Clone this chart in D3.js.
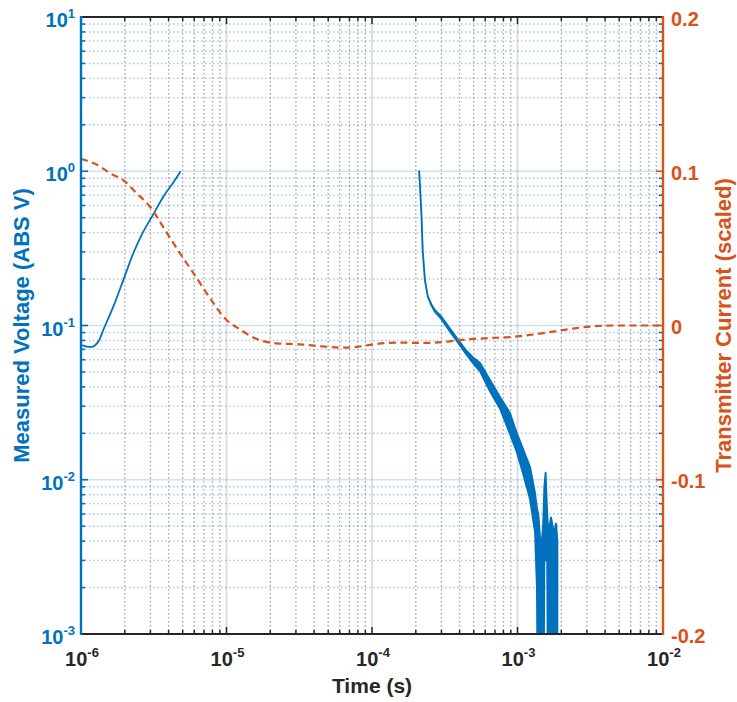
<!DOCTYPE html>
<html>
<head>
<meta charset="utf-8">
<script src="https://cdn.jsdelivr.net/npm/d3@7"></script>
<style>
  body { margin: 0; background: #fff; }
  text { font-family: "Liberation Sans", Arial, Helvetica, sans-serif; font-weight: bold; }
</style>
</head>
<body>
<svg id="chart" width="737" height="702"></svg>
<script>
// ---- axis ticks ----
const timeExponents = [-6, -5, -4, -3, -2];
const voltageExponents = [-3, -2, -1, 0, 1];
const currentTicks = [-0.2, -0.1, 0, 0.1, 0.2];
const currentTickLabels = ["-0.2", "-0.1", "0", "0.1", "0.2"];

// ---- early-time voltage (rising part) ----
const earlyTime = [1.0e-6, 1.05e-6, 1.1e-6, 1.18e-6, 1.25e-6, 1.33e-6, 1.423e-6, 1.667e-6,
                   1.953e-6, 2.288e-6, 2.545e-6, 3.176e-6, 3.678e-6, 4.426e-6, 4.84e-6];
const earlyVoltage = [0.075, 0.0738, 0.073, 0.0726, 0.0745, 0.080, 0.0935, 0.1324,
                      0.197, 0.294, 0.369, 0.536, 0.684, 0.877, 1.0];

// ---- late-time voltage decay: upper / lower envelope of the noisy trace ----
const lateTime = [2.11e-4, 2.15e-4, 2.19e-4, 2.23e-4, 2.31e-4, 2.42e-4, 2.56e-4, 2.70e-4,
                  3.0e-4, 3.5e-4, 3.92e-4, 4.4e-4, 4.95e-4, 5.53e-4, 6.47e-4, 7.58e-4,
                  8.87e-4, 9.88e-4, 1.097e-3, 1.219e-3, 1.319e-3, 1.36e-3, 1.39e-3, 1.45e-3,
                  1.50e-3, 1.53e-3, 1.56e-3, 1.60e-3, 1.63e-3, 1.70e-3, 1.78e-3, 1.84e-3, 1.88e-3];
const lateVoltageHigh = [1.0, 0.72, 0.508, 0.308, 0.197, 0.154, 0.137, 0.126,
                         0.114, 0.093, 0.0805, 0.0695, 0.062, 0.0571, 0.0443, 0.0344,
                         0.0271, 0.0201, 0.0156, 0.0121, 0.0082, 0.0065, 0.0060, 0.0035,
                         0.005, 0.009, 0.0111, 0.006, 0.0045, 0.0057, 0.0045, 0.0052, 0.004];
const lateVoltageLow = [1.0, 0.72, 0.508, 0.308, 0.197, 0.154, 0.135, 0.123,
                        0.110, 0.089, 0.077, 0.066, 0.057, 0.0505, 0.0375, 0.029,
                        0.0198, 0.0152, 0.0108, 0.0075, 0.0046, 0.002, 0.0001, 0.0001,
                        0.0001, 0.003, 0.003, 0.003, 0.0001, 0.0001, 0.0001, 0.0001, 0.0001];

// ---- transmitter current waveform (scaled) ----
const currentTime = [1e-6, 1.3e-6, 1.6e-6, 1.95e-6, 2.4e-6, 2.98e-6, 3.8e-6, 4.79e-6, 6e-6,
                     7.31e-6, 1e-5, 1.25e-5, 1.53e-5, 2.2e-5, 3.2e-5, 4.5e-5, 6.3e-5, 8e-5,
                     1.02e-4, 1.56e-4, 2.25e-4, 3.27e-4, 4.03e-4, 6e-4, 9.36e-4, 1.3e-3,
                     1.75e-3, 2.4e-3, 3.15e-3, 4.53e-3, 6.5e-3, 1e-2];
const currentValue = [0.108, 0.104, 0.0984, 0.0943, 0.0859, 0.077, 0.0616, 0.0468, 0.0332,
                      0.0209, 0.0036, -0.0028, -0.0078, -0.0116, -0.0122, -0.0135, -0.0144, -0.0138,
                      -0.0122, -0.0111, -0.0113, -0.0105, -0.0094, -0.0083, -0.0073, -0.0058,
                      -0.004, -0.002, -0.0007, 0.0, 0.0, 0.0];

// ---- styling ----
const BLUE = "#0072BD";
const ORANGE = "#D95319";
const DARK = "#262626";

const plot = { left: 81, top: 17, right: 663, bottom: 634 };

const svg = d3.select("#chart");

const x = d3.scaleLog().domain([1e-6, 1e-2]).range([plot.left, plot.right]);
const yV = d3.scaleLog().domain([1e-3, 10]).range([plot.bottom, plot.top]);
const yI = d3.scaleLinear().domain([-0.2, 0.2]).range([plot.bottom, plot.top]);

const timeMajor = timeExponents.map(e => Math.pow(10, e));
const voltMajor = voltageExponents.map(e => Math.pow(10, e));
const isMajor = v => Math.abs(Math.log10(v) - Math.round(Math.log10(v))) < 1e-9;
const timeMinor = x.ticks().filter(v => !isMajor(v));
const voltMinor = yV.ticks().filter(v => !isMajor(v));

// ---- grid ----
const grid = svg.append("g");
grid.selectAll(".vminor").data(timeMinor).join("line")
  .attr("x1", d => x(d)).attr("x2", d => x(d))
  .attr("y1", plot.top).attr("y2", plot.bottom)
  .attr("stroke", "rgba(38,38,38,0.4)").attr("stroke-width", 1.4)
  .attr("stroke-dasharray", "1.4 2.6");
grid.selectAll(".hminor").data(voltMinor).join("line")
  .attr("x1", plot.left).attr("x2", plot.right)
  .attr("y1", d => yV(d)).attr("y2", d => yV(d))
  .attr("stroke", "rgba(0,114,189,0.4)").attr("stroke-width", 1.4)
  .attr("stroke-dasharray", "1.4 2.6");
grid.selectAll(".vmajor").data(timeMajor).join("line")
  .attr("x1", d => x(d)).attr("x2", d => x(d))
  .attr("y1", plot.top).attr("y2", plot.bottom)
  .attr("stroke", "rgba(38,38,38,0.17)").attr("stroke-width", 1.7);
grid.selectAll(".hmajor").data(voltMajor).join("line")
  .attr("x1", plot.left).attr("x2", plot.right)
  .attr("y1", d => yV(d)).attr("y2", d => yV(d))
  .attr("stroke", "rgba(0,114,189,0.2)").attr("stroke-width", 1.7);

// ---- data ----
svg.append("clipPath").attr("id", "plotClip").append("rect")
  .attr("x", plot.left).attr("y", plot.top)
  .attr("width", plot.right - plot.left).attr("height", plot.bottom - plot.top);

const data = svg.append("g").attr("clip-path", "url(#plotClip)");

const earlyData = earlyTime.map((t, i) => ({ t, v: earlyVoltage[i] }));
data.append("path").datum(earlyData)
  .attr("fill", "none").attr("stroke", BLUE).attr("stroke-width", 1.8)
  .attr("d", d3.line().x(d => x(d.t)).y(d => yV(d.v)).curve(d3.curveMonotoneX));

const lateData = lateTime.map((t, i) => ({ t, hi: lateVoltageHigh[i], lo: lateVoltageLow[i] }));
data.append("path").datum(lateData)
  .attr("fill", BLUE).attr("stroke", BLUE).attr("stroke-width", 1.9)
  .attr("stroke-linejoin", "round")
  .attr("d", d3.area().x(d => x(d.t)).y0(d => yV(d.lo)).y1(d => yV(d.hi)));

const currentData = currentTime.map((t, i) => ({ t, c: currentValue[i] }));
data.append("path").datum(currentData)
  .attr("fill", "none").attr("stroke", ORANGE).attr("stroke-width", 2.2)
  .attr("stroke-dasharray", "7 4.5")
  .attr("d", d3.line().x(d => x(d.t)).y(d => yI(d.c)).curve(d3.curveMonotoneX));

// ---- axes ----
const axes = svg.append("g");

function drawTicks(g, values, scale, orient, len, color, width) {
  g.selectAll(null).data(values).join("line")
    .attr("stroke", color).attr("stroke-width", width)
    .each(function (d) {
      const s = d3.select(this);
      const p = scale(d);
      if (orient === "bottom") s.attr("x1", p).attr("x2", p).attr("y1", plot.bottom).attr("y2", plot.bottom - len);
      if (orient === "top") s.attr("x1", p).attr("x2", p).attr("y1", plot.top).attr("y2", plot.top + len);
      if (orient === "left") s.attr("y1", p).attr("y2", p).attr("x1", plot.left).attr("x2", plot.left + len);
      if (orient === "right") s.attr("y1", p).attr("y2", p).attr("x1", plot.right).attr("x2", plot.right - len);
    });
}

drawTicks(axes, timeMinor, x, "bottom", 4, DARK, 1.5);
drawTicks(axes, timeMajor, x, "bottom", 7, DARK, 1.5);
drawTicks(axes, timeMinor, x, "top", 4, DARK, 1.5);
drawTicks(axes, timeMajor, x, "top", 7, DARK, 1.5);
drawTicks(axes, voltMinor, yV, "left", 4, BLUE, 1.6);
drawTicks(axes, voltMajor, yV, "left", 7, BLUE, 1.6);
drawTicks(axes, voltMinor, yV, "right", 4, BLUE, 1.6);
drawTicks(axes, currentTicks, yI, "right", 7, ORANGE, 1.6);

axes.append("line").attr("x1", plot.left).attr("x2", plot.right)
  .attr("y1", plot.bottom).attr("y2", plot.bottom).attr("stroke", DARK).attr("stroke-width", 2);
axes.append("line").attr("x1", plot.left).attr("x2", plot.right)
  .attr("y1", plot.top).attr("y2", plot.top).attr("stroke", DARK).attr("stroke-width", 2);
axes.append("line").attr("x1", plot.left).attr("x2", plot.left)
  .attr("y1", plot.top - 1).attr("y2", plot.bottom + 1).attr("stroke", BLUE).attr("stroke-width", 2.4);
axes.append("line").attr("x1", plot.right).attr("x2", plot.right)
  .attr("y1", plot.top - 1).attr("y2", plot.bottom + 1).attr("stroke", ORANGE).attr("stroke-width", 2.4);

// ---- tick labels ----
function powerLabel(sel, exp) {
  sel.append("tspan").text("10");
  sel.append("tspan").attr("dy", -9).attr("font-size", 13).text(exp);
}

timeExponents.forEach(e => {
  const t = svg.append("text")
    .attr("x", x(Math.pow(10, e)) + 1).attr("y", plot.bottom + 32)
    .attr("text-anchor", "middle").attr("font-size", 20).attr("fill", DARK);
  powerLabel(t, e);
});

voltageExponents.forEach(e => {
  const t = svg.append("text")
    .attr("x", plot.left - 6).attr("y", yV(Math.pow(10, e)) + 10)
    .attr("text-anchor", "end").attr("font-size", 20).attr("fill", BLUE);
  powerLabel(t, e);
});

currentTicks.forEach((c, i) => {
  svg.append("text")
    .attr("x", plot.right + 8).attr("y", yI(c) + 8.5)
    .attr("font-size", 20).attr("fill", ORANGE)
    .text(currentTickLabels[i]);
});

// ---- axis titles ----
svg.append("text")
  .attr("x", (plot.left + plot.right) / 2).attr("y", 693)
  .attr("text-anchor", "middle").attr("font-size", 21).attr("fill", DARK)
  .text("Time (s)");

svg.append("text")
  .attr("transform", `translate(29,${(plot.top + plot.bottom) / 2}) rotate(-90)`)
  .attr("text-anchor", "middle").attr("font-size", 22).attr("fill", BLUE)
  .text("Measured Voltage (ABS V)");

svg.append("text")
  .attr("transform", `translate(731,${(plot.top + plot.bottom) / 2}) rotate(-90)`)
  .attr("text-anchor", "middle").attr("font-size", 22).attr("fill", ORANGE)
  .text("Transmitter Current (scaled)");
</script>
</body>
</html>
